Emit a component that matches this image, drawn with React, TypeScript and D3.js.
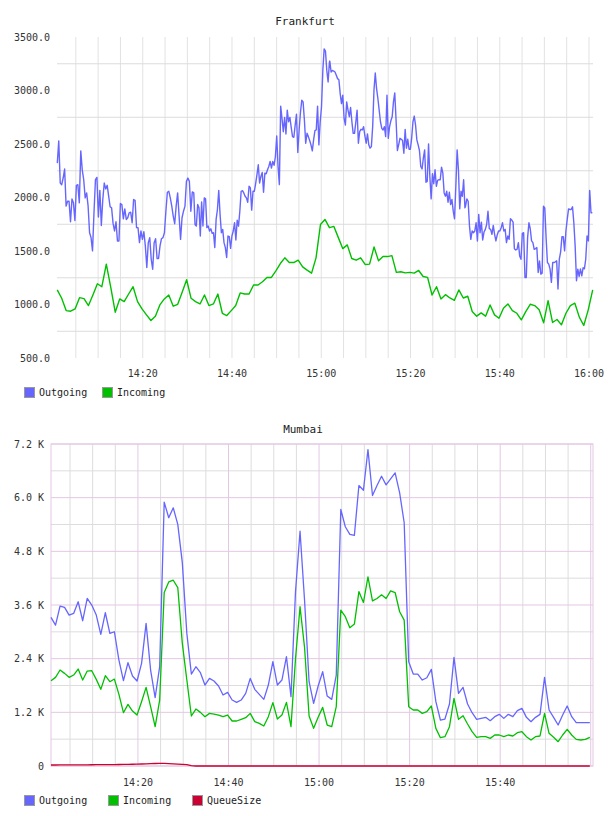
import React from "react";
import * as d3 from "d3";

const W = 608;
const H = 816;
const FONT = "'DejaVu Sans Mono', monospace";

const at = (hms: string) => new Date(`2020-01-01T${hms}`);

// ---------- Frankfurt ----------
const frankfurtIncomingStart = "14:00:50"; // one sample per minute
const frankfurtIncoming = [
  1136, 1058, 943, 937, 959, 1064, 1055, 990, 1089, 1194, 1166, 1377, 1160, 928, 1052, 1027,
  1098, 1166, 1027, 959, 903, 851, 891, 996, 1052, 1089, 984, 1002, 1114, 1231, 1058,
  1027, 1005, 1089, 990, 1005, 1098, 918, 897, 943, 990, 1108, 1098, 1098, 1182, 1182, 1213,
  1253, 1253, 1315, 1383, 1436, 1392, 1392, 1414, 1352, 1321, 1293, 1436, 1748, 1795,
  1718, 1730, 1625, 1522, 1557, 1430, 1414, 1436, 1374, 1377, 1538, 1408, 1448, 1448, 1457,
  1300, 1306, 1296, 1300, 1293, 1318, 1262, 1253, 1089, 1166, 1052, 1092, 1061, 1039, 1136, 1061,
  1077, 934, 891, 922, 891, 996, 903, 872, 965, 1005, 943, 918, 857, 934, 1002, 990, 950, 829,
  1036, 832, 860, 810, 918, 990, 1012, 882, 804, 950, 1136,
];

// Outgoing is logged in blocks; each block's samples are evenly spaced in its window.
const frankfurtOutgoingWindows = [
  ["14:00:51", "14:31:26"],
  ["14:31:43", "15:01:50"],
  ["15:01:55", "15:32:12"],
  ["15:32:20", "16:00:45"],
];
const frankfurtOutgoing1 = [
  2321, 2529, 2135, 2120, 2182, 2266, 1919, 1965, 1965, 1773, 1987, 1950, 1785, 2114, 2120, 1950,
  2436, 2259, 2166, 1996, 2043, 1919, 1671, 1625, 1501, 1857, 2166, 2188, 1817, 2067, 1739, 1981,
  2135, 2080, 2114, 2012, 1913, 1903, 1758, 1687, 1773, 1594, 1594, 1944, 1934, 1801, 1894, 1795,
  1811, 1857, 1863, 1764, 1981, 1974, 1718, 1718, 1578, 1687, 1609, 1680, 1547, 1346, 1578, 1625,
  1423, 1330, 1578, 1615, 1430, 1430, 1547, 1615, 1625, 1671, 1872, 2049, 2058, 1996, 1919, 1826,
  1755, 1919, 2043, 1826, 1609, 1811, 1872, 1919, 2151, 2182, 2151, 1872, 2052, 2043,
];
const frankfurtOutgoing2 = [
  1748, 1733, 1934, 1903, 1640, 1959, 1733, 1996, 1987, 1718, 1733, 1687, 1708, 1665, 1671, 1532,
  1795, 1888, 2067, 1842, 1671, 1702, 1578, 1532, 1439, 1640, 1634, 1525, 1640, 1687, 1764, 1603,
  1789, 1733, 1872, 2058, 2064, 2043, 2012, 1996, 1956, 2105, 2089, 1882, 2058, 2058, 2129, 2213,
  2306, 2135, 2197, 2234, 2049, 2228, 2222, 2259, 2290, 2337, 2275, 2337, 2300, 2383, 2575, 2290,
  2120, 2854, 2739, 2615, 2749, 2594, 2817, 2708, 2749, 2656, 2569, 2563, 2677, 2779, 2420, 2631,
  2792, 2909, 2894, 2724, 2507, 2600, 2569, 2532, 2492, 2436, 2538, 2625, 2631, 2854, 2492, 2708,
  2848, 3188, 3389, 3368, 3188, 3080, 3265,
];
const frankfurtOutgoing3 = [
  3275, 3173, 3188, 3182, 3173, 3142, 3111, 3101, 2971, 2878, 2956, 2739, 2677, 2894, 2817, 2755,
  2841, 2708, 2600, 2600, 2699, 2817, 2507, 2615, 2637, 2631, 2662, 2575, 2507, 2594, 2492, 2461,
  2476, 2662, 3002, 3163, 3018, 2925, 2817, 2708, 2646, 2631, 2662, 2569, 2956, 2553, 2662, 2717,
  2755, 2894, 2978, 2724, 2439, 2492, 2553, 2544, 2532, 2414, 2637, 2461, 2544, 2451, 2451, 2553,
  2708, 2761, 2677, 2538, 2492, 2439, 2290, 2266, 2368, 2445, 2142, 2151, 2501, 2197, 1987, 2222,
  2129, 2259, 2105, 2160, 2166, 2166, 2284, 2228, 2043, 2012, 2058, 1956, 2049, 1934, 1981, 1872,
  1801, 2105, 2445, 2259, 1894, 2058, 2012, 2166, 1903,
];
const frankfurtOutgoing4 = [
  1919, 1987, 1965, 1733, 1609, 1687, 1671, 1687, 1764, 1594, 1842, 1671, 1770, 1603, 1677, 1702,
  1748, 1872, 1708, 1702, 1656, 1739, 1656, 1594, 1650, 1687, 1687, 1718, 1764, 1687, 1702, 1578,
  1640, 1609, 1801, 1789, 1770, 1522, 1510, 1516, 1578, 1454, 1423, 1665, 1671, 1253, 1253, 1625,
  1764, 1708, 1594, 1578, 1516, 1522, 1532, 1299, 1408, 1284, 1293, 1919, 1903, 1625, 1392, 1377,
  1330, 1207, 1392, 1392, 1399, 1408, 1145, 1423, 1492, 1634, 1634, 1501, 1687, 1795, 1894, 1888,
  1888, 1913, 1764, 1547, 1222, 1330, 1262, 1333, 1268, 1343, 1333, 1423, 1640, 1594, 2067, 1857,
  1857,
];
const frankfurtOutgoingBlocks = [frankfurtOutgoing1, frankfurtOutgoing2, frankfurtOutgoing3, frankfurtOutgoing4];

const frankfurtDomain = ["14:00:47", "16:00:54"];
const frankfurtYLabels = [500, 1000, 1500, 2000, 2500, 3000, 3500];
const frankfurtYGrid = [750, 1250, 1750, 2250, 2750, 3250];
const frankfurtTimeLabels = ["14:20", "14:40", "15:00", "15:20", "15:40", "16:00"];

// ---------- Mumbai ----------
const mumbaiStart = "14:00:48"; // one sample per minute
const mumbaiOutgoing = [
  3323, 3151, 3576, 3546, 3375, 3412, 3673, 3248, 3747, 3598, 3375, 2943, 3427, 2965, 3002, 2369,
  1907, 2310, 2012, 1900, 2295, 3189, 2146, 1527, 2220, 5900, 5551, 5773, 5402, 4547, 2965, 2056,
  2220, 2086, 1810, 1959, 1900, 1788, 1587, 1646, 1475, 1423, 1475, 1624, 1959, 1714, 1602, 1490,
  1810, 2332, 1810, 1922, 2444, 1550, 3900,
  5250, 3700, 1885, 1400, 1788, 2108, 1565, 1490, 2034, 5736, 5350, 5179, 5157, 6271, 6167, 7074,
  6048, 6271, 6479, 6286, 6420, 6554, 6108, 5439, 2332, 2056, 2056, 1922, 1974, 2161, 1438, 1028,
  1050, 1386, 2429, 1624, 1758, 1386, 1192, 1043, 1065, 1088, 1013, 1103, 1155, 1065, 1155, 1103,
  1237, 1289, 1088, 991, 1088, 1155, 1982, 1252, 1088, 916, 1140, 1341, 1103, 969, 969, 969, 969,
];
const mumbaiIncoming = [
  1907, 1982, 2146, 2071, 1982, 2034, 2168, 1922, 2123, 2131, 1937, 1714, 2019, 1885, 1944, 1602,
  1192, 1378, 1229, 1140, 1438, 1758, 1326, 879, 1475, 3879, 4116, 4154, 3990, 2742, 1922, 1118,
  1274, 1199, 1103, 1177, 1162, 1140, 1103, 1140, 1006, 1006, 1043, 1080, 1177, 991, 954, 894,
  1103, 1416, 1050, 1140, 1423, 879, 2400,
  3561, 2650, 1118, 842, 1088, 1311, 916, 879, 1326, 3487, 3338, 3092, 3174, 3901, 3656, 4228,
  3693, 3745, 3827, 3745, 3916, 3879, 3449, 3263, 1326, 1252, 1252, 1177, 1214, 1341, 842, 633,
  656, 879, 1512, 1043, 1125, 939, 767, 641, 656, 656, 618, 693, 693, 656, 693, 671, 745, 767,
  656, 581, 656, 671, 1177, 730, 641, 544, 693, 820, 693, 596, 581, 596, 641,
];
const mumbaiQueueSize = [
  22, 22, 23, 24, 24, 25, 26, 26, 27, 28, 29, 30, 30, 31, 32, 33, 35, 37, 39, 42, 45, 48, 52, 56,
  58, 57, 52, 46, 40, 36, 30, 8, 0, 0, 0, 0, 0, 0, 0, 0, 0, 0, 0, 0, 0, 0, 0, 0, 0, 0,
  0, 0, 0, 0, 0, 0, 0, 0, 0, 0, 0, 0, 0, 0, 0, 0, 0, 0, 0, 0, 0, 0, 0, 0, 0, 0, 0, 0, 0, 0,
  0, 0, 0, 0, 0, 0, 0, 0, 0, 0, 0, 0, 0, 0, 0, 0, 0, 0, 0, 0, 0, 0, 0, 0, 0, 0, 0, 0, 0, 0,
  0, 0, 0, 0, 0, 0, 0, 0, 0, 0,
];

const mumbaiDomain = ["14:00:48", "16:00:30"];
const mumbaiYMajor = [0, 1200, 2400, 3600, 4800, 6000, 7200];
const mumbaiYMinor = [600, 1800, 3000, 4200, 5400, 6600];
const mumbaiTimeLabels = ["14:20", "14:40", "15:00", "15:20", "15:40"];

// ---------- styles ----------
const OUT = "#6666ff";
const INC = "#00c000";
const QUEUE = "#cc0033";

type Pt = [Date, number];

const perMinute = (start: string, values: number[]): Pt[] =>
  values.map((v, i) => [d3.timeMinute.offset(at(start), i), v]);

const spread = (win: string[], values: number[]): Pt[] => {
  const a = at(win[0]).getTime();
  const b = at(win[1]).getTime();
  return values.map((v, i) => [new Date(a + ((b - a) * i) / (values.length - 1)), v]);
};

const fmt = d3.timeFormat("%H:%M");

function Legend({ y, items }: { y: number; items: { label: string; color: string; x: number }[] }) {
  return (
    <g>
      {items.map((it) => (
        <g key={it.label}>
          <rect x={it.x + 0.5} y={y - 4.5} width={10} height={10} fill={it.color} stroke="#999" />
          <text x={it.x + 15} y={y} dy="0.35em" fontFamily={FONT} fontSize={10} fill="#222">
            {it.label}
          </text>
        </g>
      ))}
    </g>
  );
}

function Frankfurt() {
  const x = d3.scaleTime().domain(frankfurtDomain.map(at)).range([57, 593]);
  const y = d3.scaleLinear().domain([500, 3500]).range([358, 37]);
  const line = d3
    .line<Pt>()
    .x((d) => x(d[0]))
    .y((d) => y(d[1]));
  const incoming = perMinute(frankfurtIncomingStart, frankfurtIncoming);
  const outgoing = frankfurtOutgoingBlocks.flatMap((vals, i) => spread(frankfurtOutgoingWindows[i], vals));
  const vGrid = x.ticks(d3.timeMinute.every(5)!);
  const [x0, x1] = x.range();
  const [y0, y1] = y.range();
  return (
    <g>
      <text x={305} y={21} dy="0.35em" textAnchor="middle" fontFamily={FONT} fontSize={11} fill="#222">
        Frankfurt
      </text>
      {vGrid.map((t) => (
        <line key={+t} x1={x(t)} x2={x(t)} y1={y1} y2={y0} stroke="#e2e2e2" />
      ))}
      {frankfurtYGrid.map((v) => (
        <line key={v} x1={x0} x2={x1} y1={y(v)} y2={y(v)} stroke="#dcdcdc" />
      ))}
      {frankfurtYLabels.map((v) => (
        <text key={v} x={50} y={y(v)} dy="0.35em" textAnchor="end" fontFamily={FONT} fontSize={10} fill="#333">
          {v.toFixed(1)}
        </text>
      ))}
      {frankfurtTimeLabels.map((s) => {
        const t = at(`${s}:00`);
        return (
          <text key={s} x={x(t)} y={373} dy="0.35em" textAnchor="middle" fontFamily={FONT} fontSize={10} fill="#333">
            {fmt(t)}
          </text>
        );
      })}
      <path d={line(outgoing) ?? ""} fill="none" stroke={OUT} strokeWidth={1.4} strokeLinejoin="round" />
      <path d={line(incoming) ?? ""} fill="none" stroke={INC} strokeWidth={1.4} strokeLinejoin="round" />
      <Legend
        y={392}
        items={[
          { label: "Outgoing", color: OUT, x: 24 },
          { label: "Incoming", color: INC, x: 102 },
        ]}
      />
    </g>
  );
}

function Mumbai() {
  const x = d3.scaleTime().domain(mumbaiDomain.map(at)).range([51, 593]);
  const y = d3.scaleLinear().domain([0, 7200]).range([766, 444]);
  const line = d3
    .line<Pt>()
    .x((d) => x(d[0]))
    .y((d) => y(d[1]));
  const [x0, x1] = x.range();
  const [y0, y1] = y.range();
  const minorV = x.ticks(d3.timeMinute.every(5)!).filter((t) => t.getMinutes() % 20 !== 0);
  const majorV = x.ticks(d3.timeMinute.every(20)!);
  const yLabel = (v: number) => (v === 0 ? "0" : `${(v / 1000).toFixed(1)} K`);
  const major = "#e3c8e3";
  const minor = "#dddddd";
  return (
    <g>
      <text x={303} y={429} dy="0.35em" textAnchor="middle" fontFamily={FONT} fontSize={11} fill="#222">
        Mumbai
      </text>
      {minorV.map((t) => (
        <line key={+t} x1={x(t)} x2={x(t)} y1={y1} y2={y0} stroke={minor} />
      ))}
      {mumbaiYMinor.map((v) => (
        <line key={v} x1={x0} x2={x1} y1={y(v)} y2={y(v)} stroke={minor} />
      ))}
      {majorV.map((t) => (
        <line key={+t} x1={x(t)} x2={x(t)} y1={y1} y2={y0} stroke={major} />
      ))}
      {mumbaiYMajor.map((v) => (
        <line key={v} x1={x0} x2={x1} y1={y(v)} y2={y(v)} stroke={major} />
      ))}
      <rect x={x0} y={y1} width={x1 - x0} height={y0 - y1} fill="none" stroke={major} />
      {mumbaiYMajor.map((v) => (
        <text key={v} x={44} y={y(v)} dy="0.35em" textAnchor="end" fontFamily={FONT} fontSize={10} fill="#333">
          {yLabel(v)}
        </text>
      ))}
      {mumbaiTimeLabels.map((s) => {
        const t = at(`${s}:00`);
        return (
          <text key={s} x={x(t)} y={782} dy="0.35em" textAnchor="middle" fontFamily={FONT} fontSize={10} fill="#333">
            {fmt(t)}
          </text>
        );
      })}
      <path d={line(perMinute(mumbaiStart, mumbaiOutgoing)) ?? ""} fill="none" stroke={OUT} strokeWidth={1.3} strokeLinejoin="round" />
      <path d={line(perMinute(mumbaiStart, mumbaiIncoming)) ?? ""} fill="none" stroke={INC} strokeWidth={1.3} strokeLinejoin="round" />
      <path d={line(perMinute(mumbaiStart, mumbaiQueueSize)) ?? ""} fill="none" stroke={QUEUE} strokeWidth={1.3} strokeLinejoin="round" />
      <Legend
        y={800}
        items={[
          { label: "Outgoing", color: OUT, x: 24 },
          { label: "Incoming", color: INC, x: 108 },
          { label: "QueueSize", color: QUEUE, x: 192 },
        ]}
      />
    </g>
  );
}

export default function App() {
  return (
    <svg
      width={W}
      height={H}
      viewBox={`0 0 ${W} ${H}`}
      style={{ position: "absolute", left: 0, top: 0, background: "#fff" }}
    >
      <rect width={W} height={H} fill="#fff" />
      <Frankfurt />
      <Mumbai />
    </svg>
  );
}
